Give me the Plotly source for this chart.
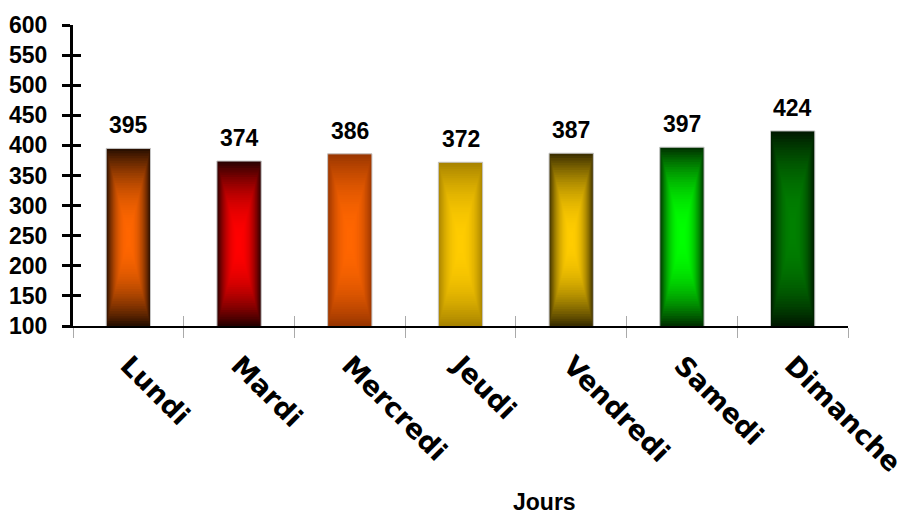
import plotly.graph_objects as go

# ---- data ----
days = ["Lundi", "Mardi", "Mercredi", "Jeudi", "Vendredi", "Samedi", "Dimanche"]
visits = [395, 374, 386, 372, 387, 397, 424]
y_ticks = [100, 150, 200, 250, 300, 350, 400, 450, 500, 550, 600]

# ---- bar styling: colour at the bar edge and at its centre ----
edge_colors = ["#2a1000", "#2a0000", "#9a3600", "#a88400", "#3d3000", "#003300", "#001a00"]
center_colors = ["#ff6600", "#ff0000", "#ff6600", "#ffcc00", "#ffcc00", "#00ff00", "#008000"]

Y_MIN, Y_MAX = y_ticks[0], y_ticks[-1]
BAR_WIDTH = 0.4
RINGS = 36

LABEL_FONT = dict(family="Liberation Sans, Arial", size=23, color="black", weight="bold")
CAT_FONT = dict(family="DejaVu Sans", size=27, color="black", weight="bold")


def hex_rgb(h):
    h = h.lstrip("#")
    return tuple(int(h[i:i + 2], 16) for i in (0, 2, 4))


def mix(c_from, c_to, t):
    a, b = hex_rgb(c_from), hex_rgb(c_to)
    return "rgb({},{},{})".format(*[round(a[j] + (b[j] - a[j]) * t) for j in range(3)])


# Rectangular "from centre" gradient: nested rectangles, darkest at the border
shapes = []
for i, (v, edge, center) in enumerate(zip(visits, edge_colors, center_colors)):
    y_mid = (Y_MIN + v) / 2
    half_h = (v - Y_MIN) / 2
    half_w = BAR_WIDTH / 2
    for k in range(RINGS):
        s = 1 - k / RINGS
        t = k / (RINGS - 1)
        t = 1 - (1 - t) ** 2.2
        shapes.append(dict(
            type="rect", xref="x", yref="y", layer="below",
            x0=i - half_w * s, x1=i + half_w * s,
            y0=y_mid - half_h * s, y1=y_mid + half_h * s,
            fillcolor=mix(edge, center, t), line=dict(width=0),
        ))

fig = go.Figure()

# bar outlines (fill comes from the gradient rectangles beneath)
fig.add_trace(go.Bar(
    x=days, y=visits,
    marker=dict(color="rgba(0,0,0,0)", line=dict(color="#c4c4c4", width=1)),
    hovertemplate="%{x}: %{y}<extra></extra>",
    showlegend=False,
))

# helper trace so the overlay axes (inner tick marks) are drawn
fig.add_trace(go.Scatter(
    x=days, y=visits, xaxis="x2", yaxis="y2", mode="markers",
    marker=dict(opacity=0), hoverinfo="skip", showlegend=False,
))

# value labels above each bar
annotations = [
    dict(x=d, y=v, xref="x", yref="y", text=str(v), showarrow=False,
         yanchor="bottom", yshift=8, font=LABEL_FONT)
    for d, v in zip(days, visits)
]
annotations.append(dict(
    x=0.609, y=-0.585, xref="paper", yref="paper", text="Jours", showarrow=False,
    xanchor="center", yanchor="middle", borderpad=0,
    font=dict(family="Liberation Sans, Arial", size=23, color="black", weight="bold"),
))

fig.update_layout(
    width=907, height=516,
    margin=dict(l=73, r=59, t=25, b=190),
    paper_bgcolor="white", plot_bgcolor="white",
    bargap=1 - BAR_WIDTH,
    shapes=shapes,
    annotations=annotations,
    xaxis=dict(
        type="category", categoryorder="array", categoryarray=days,
        range=[-0.5, len(days) - 0.5], automargin=False,
        showline=True, linecolor="black", linewidth=1.5,
        ticks="outside", tickson="boundaries", ticklen=10, tickwidth=1, tickcolor="#aaaaaa",
        tickangle=45, tickfont=CAT_FONT, ticklabelstandoff=11,
        showgrid=False, zeroline=False,
    ),
    xaxis2=dict(
        type="category", categoryorder="array", categoryarray=days,
        overlaying="x", anchor="y", side="bottom",
        range=[-0.5, len(days) - 0.5], automargin=False,
        ticks="inside", tickson="boundaries", ticklen=10, tickwidth=1, tickcolor="#aaaaaa",
        showticklabels=False, showline=False, showgrid=False, zeroline=False,
    ),
    yaxis=dict(
        range=[Y_MIN, Y_MAX], tickvals=y_ticks, automargin=False,
        showline=True, linecolor="black", linewidth=3,
        ticks="outside", ticklen=8, tickwidth=3, tickcolor="black",
        tickfont=LABEL_FONT, ticklabelstandoff=10,
        showgrid=False, zeroline=False,
    ),
    yaxis2=dict(
        range=[Y_MIN, Y_MAX], tickvals=y_ticks, automargin=False,
        overlaying="y", anchor="x", side="left",
        ticks="inside", ticklen=8, tickwidth=3, tickcolor="black",
        showticklabels=False, showline=False, showgrid=False, zeroline=False,
    ),
)

fig.write_html("out.html")
